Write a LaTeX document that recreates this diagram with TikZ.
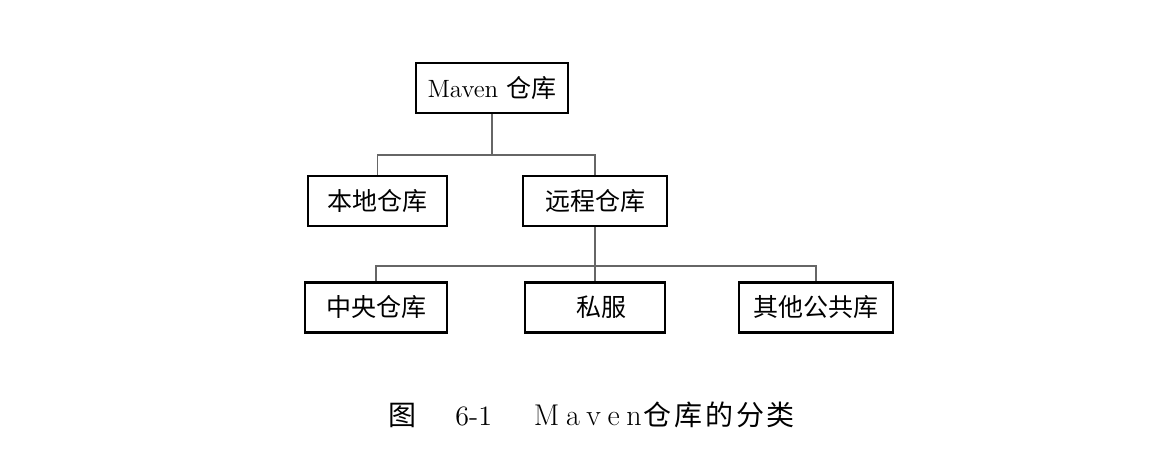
\documentclass[tikz,border=0pt]{standalone}
\usepackage{fontspec}
\newfontfamily\cjk{Noto Sans CJK SC}
\usetikzlibrary{positioning}

\tikzset{
    repobox/.style={draw, line width=1.3pt, minimum height=25pt, inner sep=0pt,
        font=\fontsize{12.5}{14}\selectfont\cjk},
    link/.style={draw=black!60, line width=0.9pt}
}
\newcommand{\spreadgap}{\hspace{3.3pt}}
\newcommand{\cjkgap}{\hspace{1.4pt}}

\begin{document}
\begin{tikzpicture}[x=0.5pt, y=-0.5pt]
        % --- CANVAS (pixel units) ---
        \useasboundingbox (0,0) rectangle (1158,462);

        % =========================================
        % LEVEL 1: ROOT
        % =========================================
        \node[repobox, minimum width=76pt, font=\fontsize{12.5}{14}\selectfont] (maven) at (492,88)
            {Maven {\cjk 仓库}};

        % =========================================
        % LEVEL 2: LOCAL / REMOTE
        % =========================================
        \node[repobox, minimum width=69.5pt] (local)  at (377.5,201) {本地仓库};
        \node[repobox, minimum width=72pt]   (remote) at (595,201)   {远程仓库};

        % =========================================
        % LEVEL 3: REMOTE KINDS
        % =========================================
        \node[repobox, minimum width=71pt] (central) at (376,307.5) {中央仓库};
        \node[repobox, minimum width=70pt] (private) at (595,307.5) {\hspace{6pt}私服};
        \node[repobox, minimum width=77pt] (public)  at (816,307.5) {其他公共库};

        % Connectors
        \coordinate (busA) at (maven.south |- 0,155);
        \draw[link] (maven.south) -- (busA);
        \draw[link] (busA) -| (local.north);
        \draw[link] (busA) -| (remote.north);

        \coordinate (busB) at (remote.south |- 0,266);
        \draw[link] (remote.south) -- (private.north);
        \draw[link] (central.north) |- (busB);
        \draw[link] (busB) -| (public.north);

        % Caption
        \node[anchor=west, inner sep=0pt, font=\fontsize{14}{16}\selectfont] (caption) at (388,415)
            {{\cjk 图}\hspace{19.5pt}6-1\hspace{21pt}{\fontsize{15}{16}\selectfont M\spreadgap a\spreadgap v\spreadgap e\spreadgap n}\hspace{1pt}{\cjk 仓\cjkgap 库\cjkgap 的\cjkgap 分\cjkgap 类}};
\end{tikzpicture}
\end{document}
